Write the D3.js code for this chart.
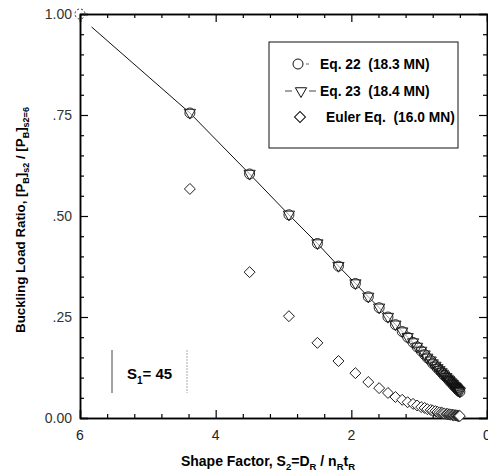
<!DOCTYPE html>
<html>
<head>
<meta charset="utf-8">
<script src="https://cdn.jsdelivr.net/npm/d3@7"></script>
<style>
  body { margin: 0; background: #fff; }
  svg { font-family: "Liberation Sans", Arial, sans-serif; }
</style>
</head>
<body>
<svg id="chart" width="488" height="473"></svg>
<script>
// shape factor S2 for each layer count
const shapeFactor = [5.83, 4.38, 3.50, 2.92, 2.50, 2.19, 1.94, 1.75, 1.59, 1.46, 1.35, 1.25,
  1.17, 1.09, 1.03, 0.97, 0.92, 0.88, 0.83, 0.80, 0.76, 0.73, 0.70, 0.67, 0.65, 0.63,
  0.60, 0.58, 0.56, 0.55, 0.53, 0.51, 0.50, 0.49, 0.47, 0.46, 0.45, 0.44, 0.43, 0.42, 0.41, 0.40];
const eq22 = [0.968, 0.755, 0.604, 0.503, 0.432, 0.376, 0.333, 0.300, 0.273, 0.250, 0.231, 0.214,
  0.200, 0.187, 0.176, 0.166, 0.157, 0.149, 0.142, 0.135, 0.129, 0.123, 0.118, 0.113, 0.109, 0.105,
  0.101, 0.097, 0.094, 0.091, 0.088, 0.085, 0.083, 0.080, 0.078, 0.076, 0.074, 0.072, 0.070, 0.068, 0.067, 0.065];
const eq23 = [0.968, 0.756, 0.605, 0.504, 0.433, 0.377, 0.334, 0.301, 0.274, 0.251, 0.232, 0.215,
  0.201, 0.188, 0.177, 0.167, 0.158, 0.150, 0.143, 0.136, 0.130, 0.124, 0.119, 0.114, 0.110, 0.106,
  0.102, 0.098, 0.095, 0.092, 0.089, 0.086, 0.084, 0.081, 0.079, 0.077, 0.075, 0.073, 0.071, 0.069, 0.068, 0.066];
const euler = [null, 0.567, 0.361, 0.252, 0.186, 0.141, 0.111, 0.089, 0.074, 0.062, 0.052, 0.045,
  0.039, 0.035, 0.031, 0.027, 0.025, 0.022, 0.020, 0.018, 0.017, 0.015, 0.014, 0.013, 0.012, 0.011,
  0.010, 0.010, 0.009, 0.009, 0.008, 0.008, 0.007, 0.007, 0.007, 0.006, 0.006, 0.006, 0.005, 0.005, 0.005, 0.005];

const xTicks = [6, 4, 2, 0];
const yTicks = [0, 0.25, 0.5, 0.75, 1];
const yTickLabels = ["0.00", ".25", ".50", ".75", "1.00"];
const legendLabels = ["Eq. 22\u00A0\u00A0(18.3 MN)", "Eq. 23\u00A0\u00A0(18.4 MN)", "Euler Eq.\u00A0\u00A0(16.0 MN)"];

const svg = d3.select("#chart");
const x = d3.scaleLinear().domain([6, 0]).range([80, 487]);
const y = d3.scaleLinear().domain([0, 1]).range([418, 14]);

// frame with inward ticks
const xMinor = d3.range(0, 6.01, 0.4).filter(v => Math.abs(v / 2 - Math.round(v / 2)) > 0.01);
const yMinor = d3.range(0, 1.001, 0.05).filter(v => Math.abs(v * 4 - Math.round(v * 4)) > 0.01);

function axis(gen, tx, ty) {
  const g = svg.append("g").attr("transform", `translate(${tx},${ty})`).call(gen);
  g.select(".domain").attr("stroke-width", 1.5);
  g.selectAll("line").attr("stroke-width", 1.2);
  return g;
}

axis(d3.axisBottom(x).tickValues(xTicks).tickSize(-8).tickFormat(""), 0, 418);
axis(d3.axisBottom(x).tickValues(xMinor).tickSize(-4).tickFormat("").tickSizeOuter(0), 0, 418);
axis(d3.axisTop(x).tickValues(xTicks).tickSize(-8).tickFormat(""), 0, 14);
axis(d3.axisTop(x).tickValues(xMinor).tickSize(-4).tickFormat("").tickSizeOuter(0), 0, 14);
axis(d3.axisLeft(y).tickValues(yTicks).tickSize(-8).tickFormat(""), 80, 0);
axis(d3.axisLeft(y).tickValues(yMinor).tickSize(-4).tickFormat("").tickSizeOuter(0), 80, 0);
axis(d3.axisRight(y).tickValues(yTicks).tickSize(-8).tickFormat(""), 487, 0);
axis(d3.axisRight(y).tickValues(yMinor).tickSize(-4).tickFormat("").tickSizeOuter(0), 487, 0);

svg.append("g").selectAll("text").data(xTicks).join("text")
  .attr("x", d => x(d)).attr("y", 440)
  .attr("text-anchor", "middle").attr("font-size", 14).attr("fill", "#222")
  .text(d => d);

svg.append("g").selectAll("text").data(yTicks).join("text")
  .attr("x", 72).attr("y", d => y(d) + 5)
  .attr("text-anchor", "end").attr("font-size", 14).attr("fill", "#333")
  .text((d, i) => yTickLabels[i]);

// axis titles
svg.append("text")
  .attr("x", 268).attr("y", 466).attr("text-anchor", "middle")
  .attr("font-size", 14).attr("font-weight", "bold")
  .html('Shape Factor, S<tspan font-size="9.5" dy="4">2</tspan><tspan dy="-4">=D</tspan><tspan font-size="9.5" dy="4">R</tspan><tspan dy="-4"> / n</tspan><tspan font-size="9.5" dy="4">R</tspan><tspan dy="-4">t</tspan><tspan font-size="9.5" dy="4">R</tspan>');

svg.append("text")
  .attr("transform", "translate(25,220) rotate(-90)").attr("text-anchor", "middle")
  .attr("font-size", 13.3).attr("font-weight", "bold")
  .html('Buckling Load Ratio, [P<tspan font-size="9" dy="4">B</tspan><tspan dy="-4">]</tspan><tspan font-size="9" dy="4">s2</tspan><tspan dy="-4"> / [P</tspan><tspan font-size="9" dy="4">B</tspan><tspan dy="-4">]</tspan><tspan font-size="9" dy="4">s2=6</tspan>');

// reference point at S2 = 6
svg.append("circle").attr("cx", x(6)).attr("cy", y(1)).attr("r", 5)
  .attr("fill", "none").attr("stroke", "#333").attr("stroke-dasharray", "2,2");

const pts = shapeFactor.map((s, i) => ({ s, a: eq22[i], b: eq23[i], e: euler[i] }));

svg.append("path").datum(pts)
  .attr("fill", "none").attr("stroke", "#111").attr("stroke-width", 1)
  .attr("d", d3.line().x(d => x(d.s)).y(d => y(d.a)));

const marks = pts.slice(1);
const tri = d3.symbol().type(d3.symbolTriangle).size(55);
const dia = d3.symbol().type(d3.symbolSquare).size(60);

svg.append("g").selectAll("circle").data(marks).join("circle")
  .attr("cx", d => x(d.s)).attr("cy", d => y(d.a)).attr("r", 5)
  .attr("fill", "#fff").attr("fill-opacity", 0.6).attr("stroke", "#111").attr("stroke-width", 0.9);

svg.append("g").selectAll("path").data(marks).join("path")
  .attr("d", tri)
  .attr("transform", d => `translate(${x(d.s)},${y(d.b)}) rotate(180)`)
  .attr("fill", "none").attr("stroke", "#111").attr("stroke-width", 0.9);

svg.append("g").selectAll("path").data(marks.filter(d => d.e != null)).join("path")
  .attr("d", dia)
  .attr("transform", d => `translate(${x(d.s)},${y(d.e)}) rotate(45)`)
  .attr("fill", "#fff").attr("stroke", "#111").attr("stroke-width", 0.9);

// legend
svg.append("rect").attr("x", 269).attr("y", 42).attr("width", 189).attr("height", 106)
  .attr("fill", "#fff").attr("stroke", "#111").attr("stroke-width", 1);
const ly = [64, 91, 117];
svg.append("circle").attr("cx", 298).attr("cy", ly[0]).attr("r", 5)
  .attr("fill", "none").attr("stroke", "#111");
svg.append("line").attr("x1", 306).attr("x2", 309).attr("y1", ly[0]).attr("y2", ly[0]).attr("stroke", "#666");
svg.append("line").attr("x1", 285).attr("x2", 292).attr("y1", ly[1]).attr("y2", ly[1]).attr("stroke", "#444");
svg.append("line").attr("x1", 309).attr("x2", 316).attr("y1", ly[1]).attr("y2", ly[1]).attr("stroke", "#444");
svg.append("path").attr("d", tri).attr("transform", `translate(301,${ly[1]}) rotate(180)`)
  .attr("fill", "none").attr("stroke", "#111");
svg.append("path").attr("d", dia).attr("transform", `translate(300,${ly[2]}) rotate(45)`)
  .attr("fill", "none").attr("stroke", "#111");
svg.append("g").selectAll("text").data(legendLabels).join("text")
  .attr("x", (d, i) => i === 2 ? 326 : 320).attr("y", (d, i) => ly[i] + 5)
  .attr("font-size", 13.8).attr("font-weight", "bold")
  .text(d => d);

// S1 note
svg.append("line").attr("x1", 112).attr("x2", 112).attr("y1", 350).attr("y2", 393)
  .attr("stroke", "#444").attr("stroke-width", 1);
svg.append("line").attr("x1", 187).attr("x2", 187).attr("y1", 350).attr("y2", 393)
  .attr("stroke", "#aaa").attr("stroke-width", 1).attr("stroke-dasharray", "2,1");
svg.append("text").attr("x", 127).attr("y", 379)
  .attr("font-size", 15).attr("font-weight", "bold")
  .html('S<tspan font-size="10" dy="5">1</tspan><tspan dy="-5">= 45</tspan>');
</script>
</body>
</html>
